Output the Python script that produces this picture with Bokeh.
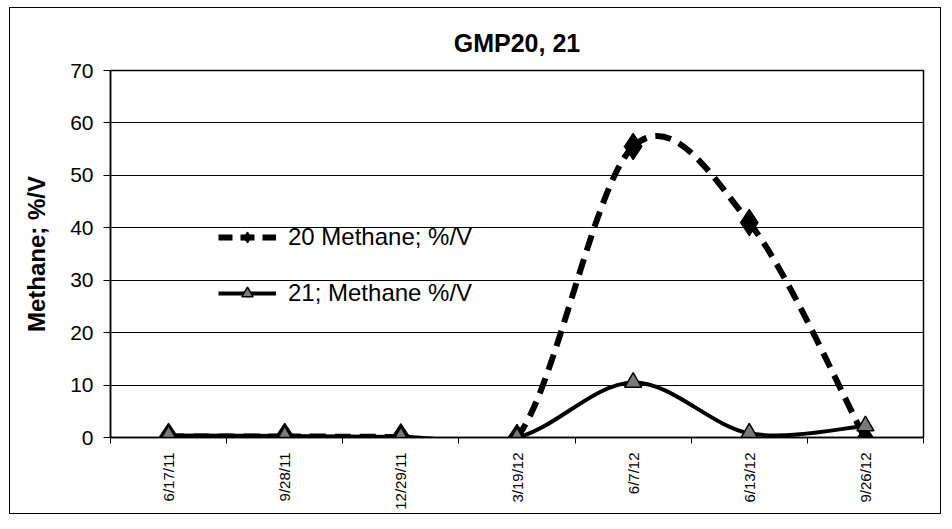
import math
from bokeh.plotting import figure
from bokeh.models import FixedTicker, Legend, LegendItem, ColumnDataSource, Range1d
from bokeh.embed import file_html
from bokeh.resources import INLINE

# ---- data ----
dates = ["6/17/11", "9/28/11", "12/29/11", "3/19/12", "6/7/12", "6/13/12", "9/26/12"]
gmp20 = [0.2, 0.2, 0.1, 0.0, 55.5, 41.0, -0.3]   # "20 Methane; %/V"
gmp21 = [0.4, 0.3, 0.1, 0.0, 10.5, 0.8, 2.2]     # "21; Methane %/V"
y_ticks = [0, 10, 20, 30, 40, 50, 60, 70]

FONT = "Liberation Sans"

xpos = [i + 0.5 for i in range(len(dates))]


def smooth_source(xs, ys):
    """Bezier control points (Catmull-Rom style) for a smoothed line through the data."""
    n = len(xs)
    d = dict(x0=[], y0=[], x1=[], y1=[], cx0=[], cy0=[], cx1=[], cy1=[])
    for i in range(n - 1):
        a = max(i - 1, 0)
        b = min(i + 2, n - 1)
        d["x0"].append(xs[i]); d["y0"].append(ys[i])
        d["x1"].append(xs[i + 1]); d["y1"].append(ys[i + 1])
        d["cx0"].append(xs[i] + (xs[i + 1] - xs[a]) / 6)
        d["cy0"].append(ys[i] + (ys[i + 1] - ys[a]) / 6)
        d["cx1"].append(xs[i + 1] - (xs[b] - xs[i]) / 6)
        d["cy1"].append(ys[i + 1] - (ys[b] - ys[i]) / 6)
    return ColumnDataSource(d)


p = figure(width=932, height=507, output_backend="svg", toolbar_location=None,
           x_range=Range1d(0, len(dates)), y_range=Range1d(0, 70),
           min_border_left=100, min_border_right=19, min_border_top=62, min_border_bottom=78)
p.styles = {"border": "1px solid black", "position": "absolute", "left": "9px", "top": "7px"}

p.background_fill_color = "white"
p.border_fill_color = "white"
p.outline_line_color = "black"
p.outline_line_width = 1.5

# title
p.title.text = "GMP20, 21"
p.title.align = "center"
p.title.text_font = FONT
p.title.text_font_size = "25px"
p.title.text_font_style = "bold"
p.title.text_color = "black"
p.title.standoff = 27

# grid
p.xgrid.visible = False
p.ygrid.grid_line_color = "black"
p.ygrid.grid_line_width = 1.2
p.ygrid.ticker = FixedTicker(ticks=y_ticks)

# y axis
p.yaxis.ticker = FixedTicker(ticks=y_ticks)
p.yaxis.axis_line_color = "black"
p.yaxis.axis_line_width = 1.5
p.yaxis.major_tick_out = 7
p.yaxis.major_tick_in = 0
p.yaxis.minor_tick_out = 0
p.yaxis.minor_tick_in = 0
p.yaxis.major_label_text_font = FONT
p.yaxis.major_label_text_font_size = "21px"
p.yaxis.major_label_text_color = "black"
p.yaxis.major_label_standoff = 10
p.yaxis.axis_label = "Methane; %/V"
p.yaxis.axis_label_text_font = FONT
p.yaxis.axis_label_text_font_size = "24px"
p.yaxis.axis_label_text_font_style = "bold"
p.yaxis.axis_label_text_color = "black"
p.yaxis.axis_label_standoff = 17

# x axis
p.xaxis.ticker = FixedTicker(ticks=xpos, minor_ticks=list(range(len(dates) + 1)))
p.xaxis.major_label_overrides = {x: d for x, d in zip(xpos, dates)}
p.xaxis.major_label_orientation = math.pi / 2
p.xaxis.axis_line_color = "black"
p.xaxis.axis_line_width = 1.5
p.xaxis.major_tick_out = 0
p.xaxis.major_tick_in = 0
p.xaxis.minor_tick_out = 6
p.xaxis.minor_tick_in = 0
p.xaxis.minor_tick_line_color = "black"
p.xaxis.major_label_text_font = FONT
p.xaxis.major_label_text_font_size = "15px"
p.xaxis.major_label_text_color = "black"
p.xaxis.major_label_standoff = 9

# series 21: solid smoothed line with grey triangles
s21 = smooth_source(xpos, gmp21)
p.bezier(x0="x0", y0="y0", x1="x1", y1="y1", cx0="cx0", cy0="cy0", cx1="cx1", cy1="cy1",
         source=s21, line_color="black", line_width=4)
# series 20: dashed smoothed line with diamonds
s20 = smooth_source(xpos, gmp20)
p.bezier(x0="x0", y0="y0", x1="x1", y1="y1", cx0="cx0", cy0="cy0", cx1="cx1", cy1="cy1",
         source=s20, line_color="black", line_width=6, line_dash="16 9")

sc20 = p.scatter(xpos, gmp20, marker="diamond", size=27, fill_color="black", line_color="black")
sc21 = p.scatter(xpos, gmp21, marker="triangle", size=17, fill_color="#7a7a7a",
                 line_color="black", line_width=1.5)

nan = float("nan")
leg20 = p.line(x=[nan], y=[nan], line_color="black", line_width=6, line_dash="14 8")
leg21 = p.line(x=[nan], y=[nan], line_color="black", line_width=4)

legend = Legend(items=[LegendItem(label="20 Methane; %/V", renderers=[leg20, sc20]),
                       LegendItem(label="21; Methane %/V", renderers=[leg21, sc21])],
                location=(108, 130), orientation="vertical",
                glyph_width=58, glyph_height=28, label_height=28, spacing=28,
                padding=0, margin=0, label_standoff=12,
                border_line_alpha=0, background_fill_alpha=0,
                label_text_font=FONT, label_text_font_size="24px", label_text_color="black")
p.add_layout(legend, "center")

open("out.html", "w").write(file_html(p, INLINE))
